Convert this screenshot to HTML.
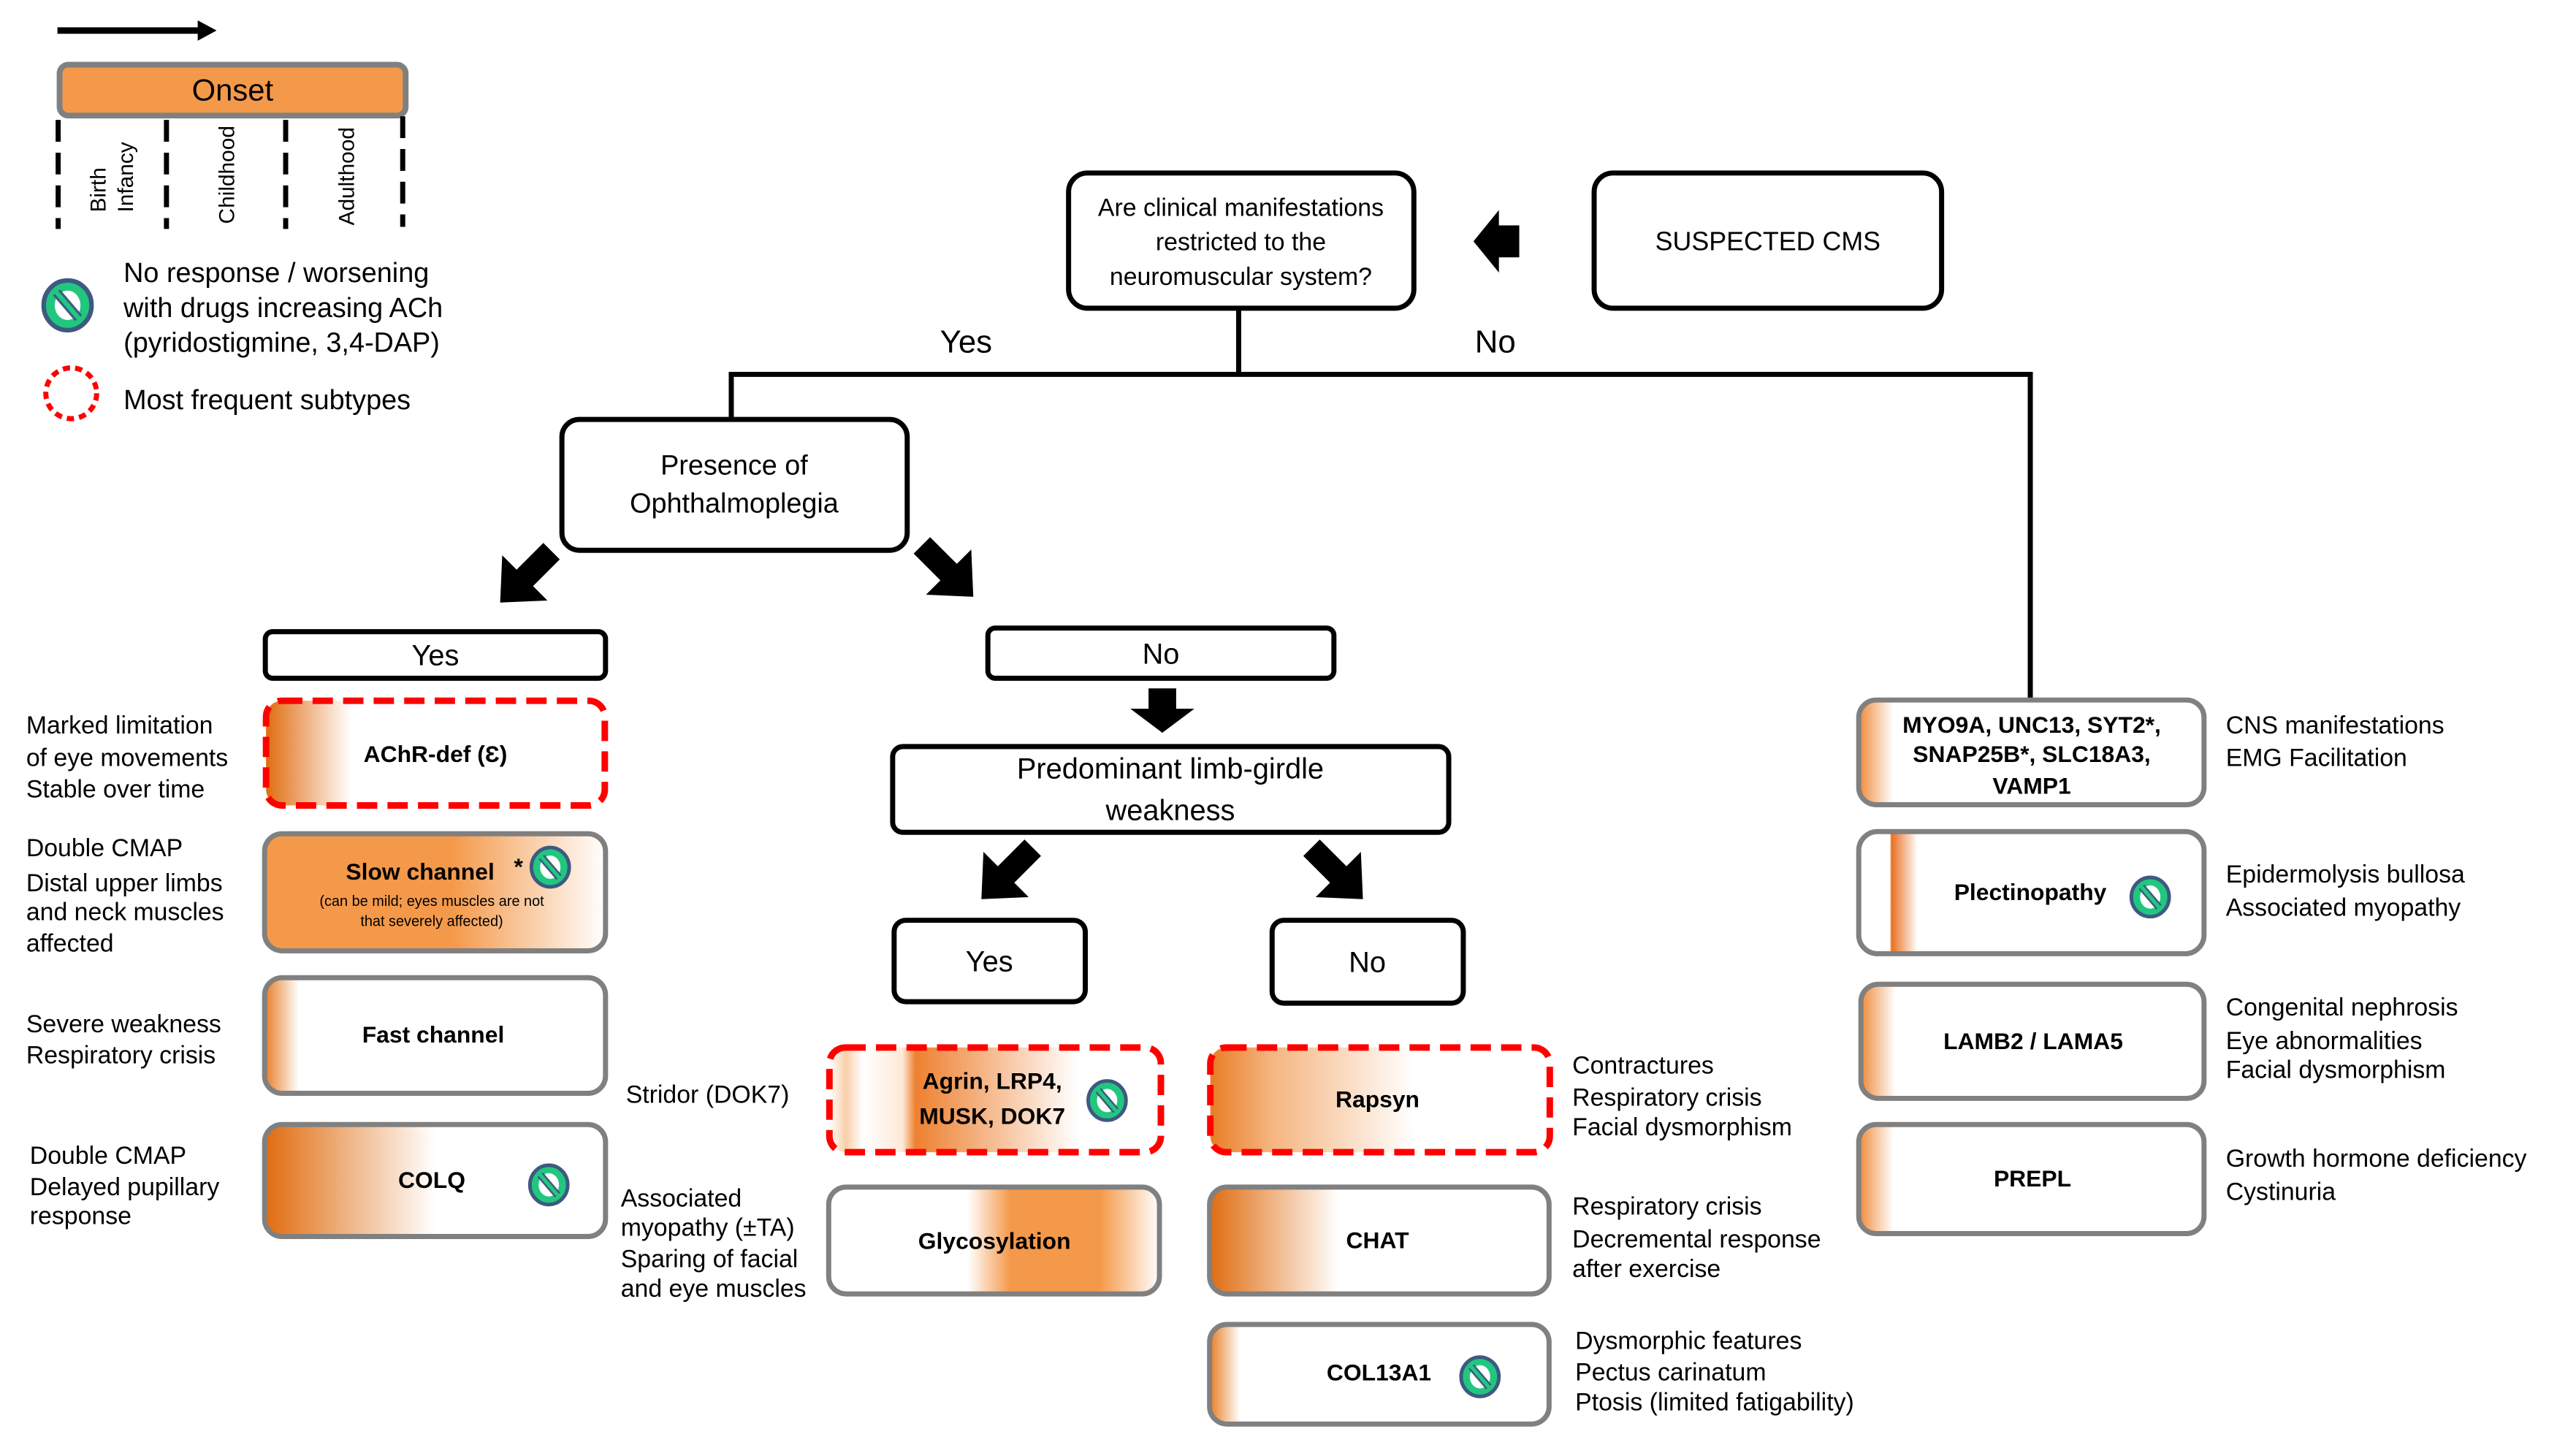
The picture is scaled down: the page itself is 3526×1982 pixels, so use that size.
<!DOCTYPE html>
<html><head><meta charset="utf-8"><style>
html,body{margin:0;padding:0;background:#fff;}
svg{display:block;}
text{font-family:"Liberation Sans",sans-serif;fill:#000;}
.n{font-size:34px;}
.b{font-size:32px;font-weight:bold;}
</style></head><body>
<svg width="3526" height="1982" viewBox="0 0 3526 1982" xmlns="http://www.w3.org/2000/svg">
<defs>
<symbol id="no" viewBox="-30 -30 60 60">
<ellipse cx="0" cy="0" rx="26" ry="27" fill="#22c77f" stroke="#3d5a80" stroke-width="5"/>
<ellipse cx="0" cy="0" rx="14" ry="16" fill="#fff"/>
<line x1="-12" y1="-14" x2="12" y2="14" stroke="#3d5a80" stroke-width="10"/>
<line x1="-12" y1="-14" x2="12" y2="14" stroke="#22c77f" stroke-width="5"/>
</symbol>
<linearGradient id="gAchr"><stop offset="0" stop-color="#e06c10"/><stop offset="0.25" stop-color="#fff"/></linearGradient>
<linearGradient id="gSlow"><stop offset="0" stop-color="#f4994a"/><stop offset="0.55" stop-color="#f4994a"/><stop offset="1" stop-color="#fff"/></linearGradient>
<linearGradient id="gFast"><stop offset="0" stop-color="#e87d25"/><stop offset="0.1" stop-color="#fff"/></linearGradient>
<linearGradient id="gColq"><stop offset="0" stop-color="#e06c10"/><stop offset="0.5" stop-color="#fff"/></linearGradient>
<linearGradient id="gAgrin"><stop offset="0" stop-color="#fff"/><stop offset="0.05" stop-color="#f9cfa8"/><stop offset="0.1" stop-color="#fff"/><stop offset="0.22" stop-color="#fde9d8"/><stop offset="0.26" stop-color="#ee8030"/><stop offset="0.75" stop-color="#fff"/></linearGradient>
<linearGradient id="gGly"><stop offset="0" stop-color="#fff"/><stop offset="0.42" stop-color="#fff"/><stop offset="0.55" stop-color="#f4994a"/><stop offset="0.82" stop-color="#f4994a"/><stop offset="1" stop-color="#fff"/></linearGradient>
<linearGradient id="gRap"><stop offset="0" stop-color="#e87d25"/><stop offset="0.18" stop-color="#f5b580"/><stop offset="0.6" stop-color="#fff"/></linearGradient>
<linearGradient id="gChat"><stop offset="0" stop-color="#e06c10"/><stop offset="0.38" stop-color="#fff"/></linearGradient>
<linearGradient id="gC13"><stop offset="0" stop-color="#e87d25"/><stop offset="0.09" stop-color="#fff"/></linearGradient>
<linearGradient id="gPlec"><stop offset="0" stop-color="#fff"/><stop offset="0.09" stop-color="#fff"/><stop offset="0.095" stop-color="#e87020"/><stop offset="0.17" stop-color="#fff"/></linearGradient>
<linearGradient id="gSide"><stop offset="0" stop-color="#ef8a3a"/><stop offset="0.1" stop-color="#fff"/></linearGradient>
</defs>
<g transform="scale(0.995)">
<!-- Legend -->
<line x1="79" y1="42" x2="278" y2="42" stroke="#000" stroke-width="9"/>
<polygon points="272,28 298,42 272,56" fill="#000"/>
<rect x="82" y="89" width="476" height="70" rx="12" fill="#f4994a" stroke="#808080" stroke-width="8"/>
<text x="320" y="138" font-size="42" text-anchor="middle">Onset</text>
<g stroke="#000" stroke-width="7" stroke-dasharray="30 15">
<line x1="80" y1="165" x2="80" y2="315"/><line x1="229" y1="165" x2="229" y2="315"/>
<line x1="393" y1="165" x2="393" y2="315"/><line x1="554" y1="160" x2="554" y2="312"/>
</g>
<g font-size="30">
<text transform="translate(145,292) rotate(-90)">Birth</text>
<text transform="translate(183,292) rotate(-90)">Infancy</text>
<text transform="translate(322,308) rotate(-90)">Childhood</text>
<text transform="translate(487,310) rotate(-90)">Adulthood</text>
</g>
<use href="#no" x="55" y="382" width="76" height="76"/>
<g font-size="38">
<text x="170" y="388">No response / worsening</text>
<text x="170" y="436">with  drugs increasing ACh</text>
<text x="170" y="484">(pyridostigmine, 3,4-DAP)</text>
<text x="170" y="563">Most frequent subtypes</text>
</g>
<circle cx="98" cy="541" r="35" fill="none" stroke="#ff0000" stroke-width="7" stroke-dasharray="10 7"/>

<!-- Top flow -->
<rect x="1470" y="238" width="475" height="186" rx="26" fill="#fff" stroke="#000" stroke-width="7"/>
<g font-size="34" text-anchor="middle">
<text x="1707" y="297">Are clinical manifestations</text>
<text x="1707" y="344">restricted  to the</text>
<text x="1707" y="392">neuromuscular  system?</text>
</g>
<rect x="2193" y="238" width="478" height="186" rx="26" fill="#fff" stroke="#000" stroke-width="7"/>
<text x="2432" y="344" font-size="36" text-anchor="middle">SUSPECTED CMS</text>
<polygon points="2027,332 2062,289 2062,310 2090,310 2090,354 2062,354 2062,375" fill="#000"/>

<g stroke="#000" stroke-width="7" fill="none">
<line x1="1704" y1="424" x2="1704" y2="515"/>
<polyline points="1006,578 1006,515 2793,515 2793,963"/>
</g>
<text x="1329" y="485" font-size="44" text-anchor="middle">Yes</text>
<text x="2057" y="485" font-size="44" text-anchor="middle">No</text>

<rect x="773" y="577" width="475" height="180" rx="24" fill="#fff" stroke="#000" stroke-width="7"/>
<g font-size="38" text-anchor="middle">
<text x="1010" y="653">Presence of</text>
<text x="1010" y="705">Ophthalmoplegia</text>
</g>

<g fill="#000">
<polygon transform="translate(722,795) rotate(45)" points="-16,-52 16,-52 16,0 44,0 0,48 -44,0 -16,0"/>
<polygon transform="translate(1305,787) rotate(-45)" points="-16,-52 16,-52 16,0 44,0 0,48 -44,0 -16,0"/>
<polygon transform="translate(1384,1203) rotate(45)" points="-16,-52 16,-52 16,0 44,0 0,48 -44,0 -16,0"/>
<polygon transform="translate(1841,1203) rotate(-45)" points="-16,-52 16,-52 16,0 44,0 0,48 -44,0 -16,0"/>
<polygon points="1580,947 1618,947 1618,975 1643,975 1599,1008 1555,975 1580,975"/>
</g>

<rect x="365" y="869" width="468" height="64" rx="10" fill="#fff" stroke="#000" stroke-width="7"/>
<text x="599" y="915" font-size="40" text-anchor="middle">Yes</text>
<rect x="1359" y="864" width="476" height="69" rx="10" fill="#fff" stroke="#000" stroke-width="7"/>
<text x="1597" y="913" font-size="40" text-anchor="middle">No</text>

<rect x="1228" y="1027" width="765" height="118" rx="14" fill="#fff" stroke="#000" stroke-width="7"/>
<g font-size="40" text-anchor="middle">
<text x="1610" y="1071">Predominant limb-girdle</text>
<text x="1610" y="1128">weakness</text>
</g>

<rect x="1230" y="1266" width="263" height="112" rx="16" fill="#fff" stroke="#000" stroke-width="7"/>
<text x="1361" y="1336" font-size="40" text-anchor="middle">Yes</text>
<rect x="1750" y="1266" width="263" height="114" rx="16" fill="#fff" stroke="#000" stroke-width="7"/>
<text x="1881" y="1337" font-size="40" text-anchor="middle">No</text>

<!-- Left column boxes -->
<rect x="366" y="964" width="466" height="144" rx="22" fill="url(#gAchr)" stroke="#ff0000" stroke-width="9" stroke-dasharray="28 14"/>
<text x="599" y="1048" class="b" text-anchor="middle">AChR-def (Ɛ)</text>
<rect x="364" y="1147" width="469" height="161" rx="24" fill="url(#gSlow)" stroke="#808080" stroke-width="7"/>
<text x="578" y="1210" class="b" text-anchor="middle">Slow channel</text>
<text x="707" y="1203" font-size="32" font-weight="bold">*</text>
<use href="#no" x="727" y="1163" width="60" height="60"/>
<text x="594" y="1246" font-size="20" text-anchor="middle">(can be mild; eyes muscles  are not</text>
<text x="594" y="1274" font-size="20" text-anchor="middle">that severely affected)</text>
<rect x="364" y="1345" width="469" height="159" rx="24" fill="url(#gFast)" stroke="#808080" stroke-width="7"/>
<text x="596" y="1434" class="b" text-anchor="middle">Fast channel</text>
<rect x="364" y="1547" width="469" height="154" rx="24" fill="url(#gColq)" stroke="#808080" stroke-width="7"/>
<text x="594" y="1634" class="b" text-anchor="middle">COLQ</text>
<use href="#no" x="725" y="1600" width="60" height="60"/>

<g class="n">
<text x="36" y="1009">Marked limitation</text>
<text x="36" y="1054">of eye movements</text>
<text x="36" y="1097">Stable over time</text>
<text x="36" y="1178">Double CMAP</text>
<text x="36" y="1226">Distal upper limbs</text>
<text x="36" y="1266">and neck muscles</text>
<text x="36" y="1309">affected</text>
<text x="36" y="1420">Severe weakness</text>
<text x="36" y="1463">Respiratory crisis</text>
<text x="41" y="1601">Double CMAP</text>
<text x="41" y="1644">Delayed pupillary</text>
<text x="41" y="1684">response</text>
<text x="861" y="1517">Stridor (DOK7)</text>
<text x="854" y="1660">Associated</text>
<text x="854" y="1700">myopathy (±TA)</text>
<text x="854" y="1743">Sparing of facial</text>
<text x="854" y="1784">and eye muscles</text>
</g>

<!-- Middle boxes -->
<rect x="1141" y="1441" width="456" height="144" rx="22" fill="url(#gAgrin)" stroke="#ff0000" stroke-width="9" stroke-dasharray="28 14"/>
<text x="1365" y="1498" class="b" text-anchor="middle">Agrin, LRP4,</text>
<text x="1365" y="1546" class="b" text-anchor="middle">MUSK, DOK7</text>
<use href="#no" x="1493" y="1484" width="60" height="60"/>
<rect x="1140" y="1633" width="455" height="147" rx="24" fill="url(#gGly)" stroke="#808080" stroke-width="7"/>
<text x="1368" y="1718" class="b" text-anchor="middle">Glycosylation</text>

<rect x="1665" y="1441" width="467" height="144" rx="22" fill="url(#gRap)" stroke="#ff0000" stroke-width="9" stroke-dasharray="28 14"/>
<text x="1895" y="1523" class="b" text-anchor="middle">Rapsyn</text>
<rect x="1664" y="1633" width="467" height="147" rx="24" fill="url(#gChat)" stroke="#808080" stroke-width="7"/>
<text x="1895" y="1717" class="b" text-anchor="middle">CHAT</text>
<rect x="1664" y="1822" width="467" height="137" rx="24" fill="url(#gC13)" stroke="#808080" stroke-width="7"/>
<text x="1897" y="1899" class="b" text-anchor="middle">COL13A1</text>
<use href="#no" x="2006" y="1864" width="60" height="60"/>

<g class="n">
<text x="2163" y="1477">Contractures</text>
<text x="2163" y="1521">Respiratory crisis</text>
<text x="2163" y="1562">Facial dysmorphism</text>
<text x="2163" y="1671">Respiratory crisis</text>
<text x="2163" y="1716">Decremental response</text>
<text x="2163" y="1757">after exercise</text>
<text x="2167" y="1856">Dysmorphic features</text>
<text x="2167" y="1899">Pectus carinatum</text>
<text x="2167" y="1940">Ptosis (limited fatigability)</text>
</g>

<!-- Right column -->
<rect x="2557" y="963" width="475" height="144" rx="24" fill="url(#gSide)" stroke="#808080" stroke-width="7"/>
<g class="b" text-anchor="middle">
<text x="2795" y="1008">MYO9A, UNC13, SYT2*,</text>
<text x="2795" y="1048">SNAP25B*, SLC18A3,</text>
<text x="2795" y="1092">VAMP1</text>
</g>
<rect x="2557" y="1144" width="475" height="168" rx="26" fill="url(#gPlec)" stroke="#808080" stroke-width="7"/>
<text x="2793" y="1238" class="b" text-anchor="middle">Plectinopathy</text>
<use href="#no" x="2928" y="1204" width="60" height="60"/>
<rect x="2560" y="1354" width="472" height="157" rx="24" fill="url(#gSide)" stroke="#808080" stroke-width="7"/>
<text x="2797" y="1443" class="b" text-anchor="middle">LAMB2 / LAMA5</text>
<rect x="2557" y="1547" width="475" height="150" rx="24" fill="url(#gSide)" stroke="#808080" stroke-width="7"/>
<text x="2796" y="1632" class="b" text-anchor="middle">PREPL</text>

<g class="n">
<text x="3062" y="1009">CNS  manifestations</text>
<text x="3062" y="1054">EMG Facilitation</text>
<text x="3062" y="1214">Epidermolysis bullosa</text>
<text x="3062" y="1260">Associated myopathy</text>
<text x="3062" y="1397">Congenital nephrosis</text>
<text x="3062" y="1443">Eye abnormalities</text>
<text x="3062" y="1483">Facial dysmorphism</text>
<text x="3062" y="1605">Growth hormone deficiency</text>
<text x="3062" y="1651">Cystinuria</text>
</g>
</g>
</svg>
</body></html>
